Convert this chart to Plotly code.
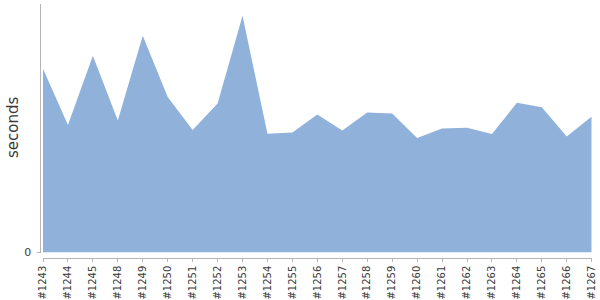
import plotly.graph_objects as go

builds = ["#1243", "#1244", "#1245", "#1248", "#1249", "#1250", "#1251", "#1252",
          "#1253", "#1254", "#1255", "#1256", "#1257", "#1258", "#1259", "#1260",
          "#1261", "#1262", "#1263", "#1264", "#1265", "#1266", "#1267"]
seconds = [184.5, 128.0, 197.5, 132.5, 217.5, 156.0, 123.0, 149.5,
           237.5, 119.2, 120.5, 138.5, 122.5, 140.5, 139.5, 114.8,
           124.5, 125.2, 118.8, 150.2, 145.8, 116.5, 136.5]

W, H = 600, 300
fill_color = "#8fb1da"
axis_color = "#b4b4b4"
text_color = "#3a3a3a"

fig = go.Figure()
fig.add_trace(go.Scatter(
    x=builds, y=seconds, mode="lines", fill="tozeroy",
    fillcolor=fill_color, line=dict(width=0, color=fill_color),
    hoverinfo="skip", showlegend=False,
))

fig.update_layout(
    template="none",
    width=W, height=H,
    margin=dict(l=0, r=0, t=0, b=0, pad=0),
    paper_bgcolor="white", plot_bgcolor="white",
    font=dict(family="DejaVu Sans", color=text_color),
    xaxis=dict(
        type="category", range=[0, len(builds) - 1],
        domain=[43 / W, 591.7 / W],
        anchor="free", position=1 - 257.7 / H,
        automargin=False,
        showgrid=False, zeroline=False,
        showline=True, linecolor=axis_color, linewidth=1,
        ticks="outside", ticklen=3, tickcolor=axis_color, tickwidth=1,
        tickangle=-90, tickfont=dict(size=10, color=text_color),
    ),
    yaxis=dict(
        range=[0, max(seconds) * 1.05],
        domain=[1 - 252.5 / H, 1 - 4 / H],
        anchor="free", position=39.5 / W,
        automargin=False,
        showgrid=False, zeroline=False,
        showline=True, linecolor=axis_color, linewidth=1,
        ticks="outside", ticklen=3, tickcolor=axis_color, tickwidth=1,
        ticklabelstandoff=3,
        tickvals=[0], ticktext=["0"], tickfont=dict(size=11, color=text_color),
    ),
    annotations=[dict(
        text="seconds", xref="paper", yref="paper",
        x=13 / W, y=1 - 128 / H, showarrow=False, textangle=-90,
        font=dict(size=15, color=text_color, family="DejaVu Sans"),
        xanchor="center", yanchor="middle",
    )],
)

fig.write_html("out.html")
